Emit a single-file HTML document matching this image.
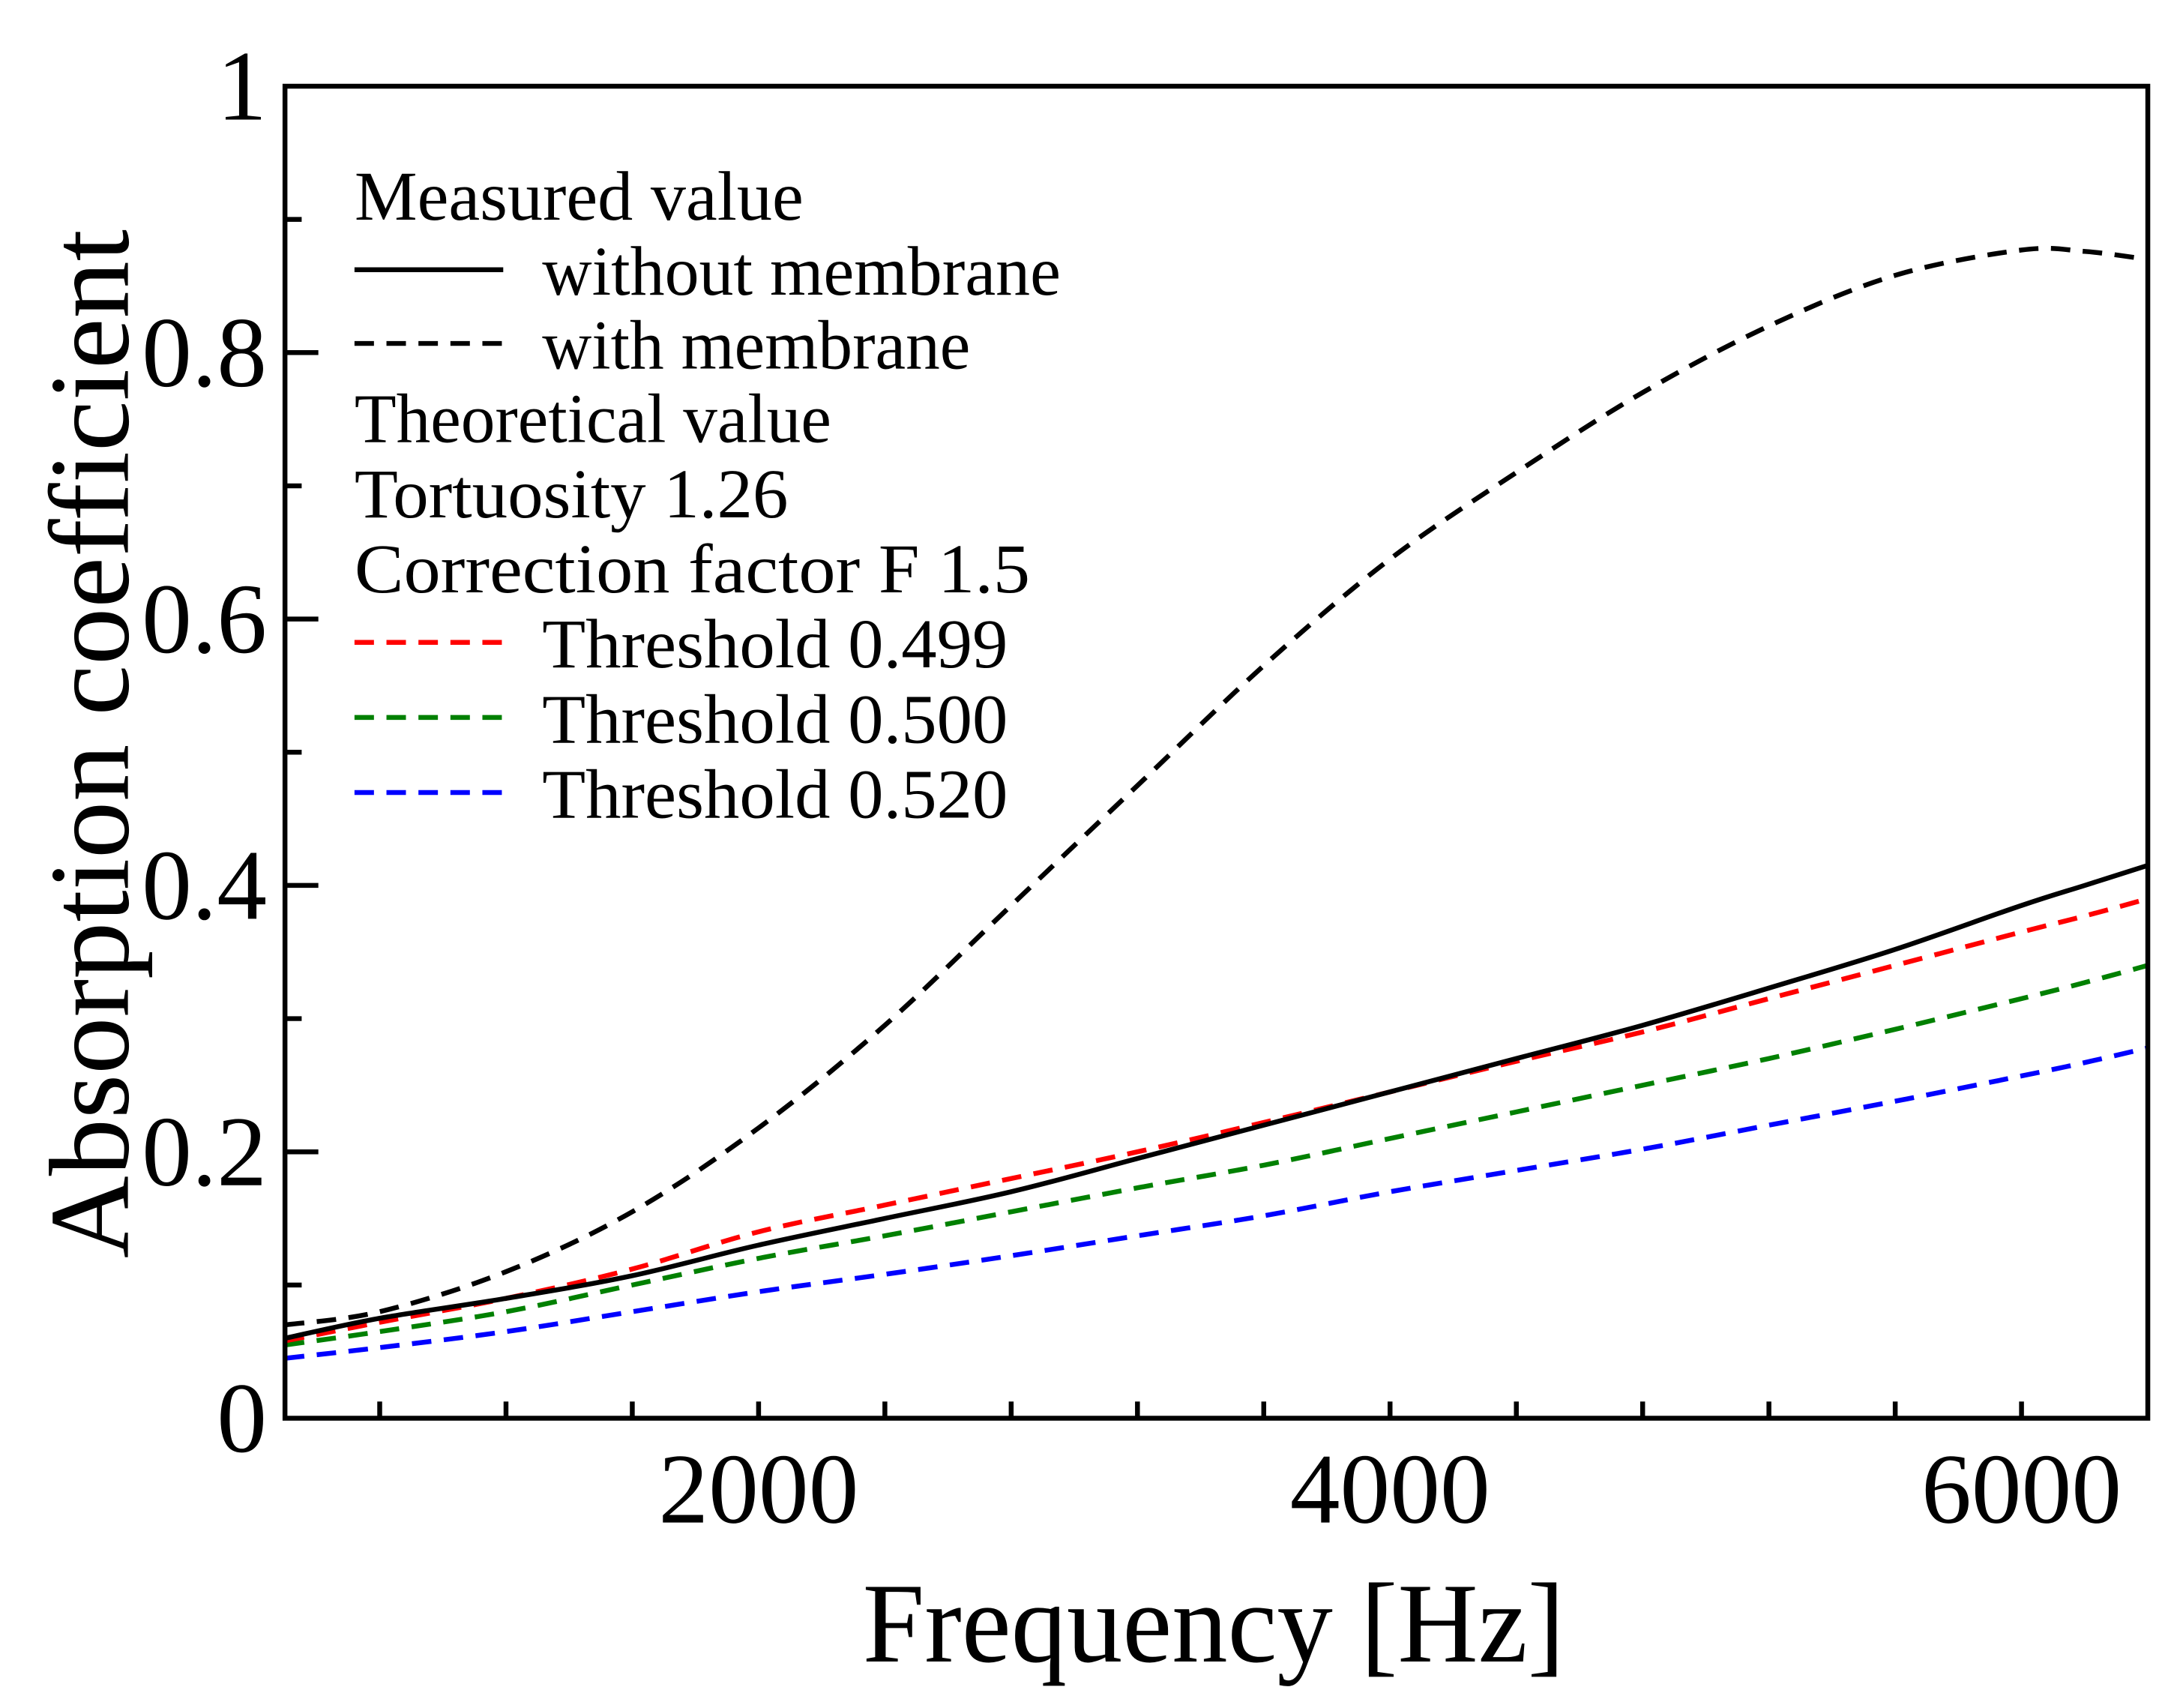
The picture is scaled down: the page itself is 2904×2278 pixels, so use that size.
<!DOCTYPE html>
<html><head><meta charset="utf-8"><style>
html,body{margin:0;padding:0;background:#fff;}
svg{display:block;}
text{font-family:"Liberation Serif",serif;fill:#000;}
</style></head><body>
<svg id="chart" width="2904" height="2278" viewBox="0 0 1566 1228.4" xmlns="http://www.w3.org/2000/svg">
<g id="plot"></g>
</svg>
<script>
const freqs = [500, 800, 1200, 1600, 2000, 2400, 2800, 3200, 3600, 4000, 4400, 4800, 5200, 5600, 6000, 6200, 6400];
const withMembrane = [0.07, 0.08, 0.11, 0.155, 0.218, 0.295, 0.385, 0.475, 0.565, 0.645, 0.71, 0.77, 0.82, 0.858, 0.877, 0.876, 0.87];
const withoutMembrane = [0.06, 0.075, 0.09, 0.107, 0.13, 0.15, 0.17, 0.195, 0.22, 0.245, 0.27, 0.295, 0.323, 0.352, 0.385, 0.40, 0.415];
const thr499 = [0.058, 0.072, 0.09, 0.112, 0.14, 0.16, 0.18, 0.2, 0.222, 0.245, 0.268, 0.29, 0.315, 0.34, 0.365, 0.377, 0.39];
const thr500 = [0.055, 0.065, 0.08, 0.1, 0.12, 0.137, 0.155, 0.173, 0.19, 0.21, 0.23, 0.25, 0.27, 0.292, 0.315, 0.327, 0.34];
const thr520 = [0.045, 0.053, 0.065, 0.08, 0.095, 0.108, 0.122, 0.137, 0.152, 0.17, 0.186, 0.202, 0.22, 0.238, 0.257, 0.267, 0.278];
const xTickLabels = [2000, 4000, 6000];
const yTickLabels = ["0", "0.2", "0.4", "0.6", "0.8", "1"];

const L=205,R=1545,T=62,B=1020,X0=500,X1=6400;
const sx=v=>L+(v-X0)/(X1-X0)*(R-L);
const sy=v=>B-v*(B-T);
const NS="http://www.w3.org/2000/svg";
const g=document.getElementById('plot');
function mk(tag,attrs,parent){const e=document.createElementNS(NS,tag);for(const k in attrs)e.setAttribute(k,attrs[k]);(parent||g).appendChild(e);return e;}
function smoothPath(xs,ys){
  const P=xs.map((f,i)=>[sx(f),sy(ys[i])]);
  let d="M"+P[0][0].toFixed(1)+","+P[0][1].toFixed(1);
  for(let i=0;i<P.length-1;i++){
    const p0=P[Math.max(i-1,0)],p1=P[i],p2=P[i+1],p3=P[Math.min(i+2,P.length-1)];
    const c1=[p1[0]+(p2[0]-p0[0])/6,p1[1]+(p2[1]-p0[1])/6];
    const c2=[p2[0]-(p3[0]-p1[0])/6,p2[1]-(p3[1]-p1[1])/6];
    d+=" C"+c1.map(v=>v.toFixed(1)).join(",")+" "+c2.map(v=>v.toFixed(1)).join(",")+" "+p2.map(v=>v.toFixed(1)).join(",");
  }
  return d;
}
const series=[
 {d:withMembrane,c:"#000",dash:"14 9",n:"with-membrane-line"},
 {d:thr520,c:"#0000ff",dash:"14 9",n:"threshold-0520-line"},
 {d:thr500,c:"#008000",dash:"14 9",n:"threshold-0500-line"},
 {d:thr499,c:"#ff0000",dash:"14 9",n:"threshold-0499-line"},
 {d:withoutMembrane,c:"#000",dash:"none",n:"without-membrane-line"}
];
for(const s of series){
  const p=mk('path',{d:smoothPath(freqs,s.d),fill:"none",stroke:s.c,"stroke-width":3.5,"stroke-dasharray":s.dash,"stroke-linejoin":"round"});
  
  
}
const fr=mk('rect',{x:L,y:T,width:R-L,height:B-T,fill:"none",stroke:"#000","stroke-width":3.5});


for(let f=800;f<6400;f+=400){
  const t=mk('line',{x1:sx(f),x2:sx(f),y1:B,y2:B-12,stroke:"#000","stroke-width":3.5});
  
  
}
for(const f of xTickLabels){
  const t=mk('text',{x:sx(f),y:1095,"font-size":72,"text-anchor":"middle"});
  t.textContent=f;
  
  
}
for(let i=1;i<10;i++){
  const v=i/10;
  const len=(i%2==0)?24:12;
  const t=mk('line',{x1:L,x2:L+len,y1:sy(v),y2:sy(v),stroke:"#000","stroke-width":3.5});
  
  
}
yTickLabels.forEach((lab,i)=>{
  const t=mk('text',{x:192,y:sy(i*0.2)+24,"font-size":72,"text-anchor":"end"});
  t.textContent=lab;
  
  
});
const xt=mk('text',{x:873,y:1195,"font-size":82,"text-anchor":"middle",textLength:505,lengthAdjust:"spacingAndGlyphs"});
xt.textContent="Frequency [Hz]";


const yt=mk('text',{x:0,y:0,"font-size":82,"text-anchor":"middle",textLength:740,lengthAdjust:"spacingAndGlyphs",transform:"translate(92,535) rotate(-90)"});
yt.textContent="Absorption coefficient";


const leg=[
 {t:"Measured value",x:255,y:158,w:323},
 {t:"without membrane",x:390,y:212,w:373,line:"#000",dash:"none"},
 {t:"with membrane",x:390,y:265,w:308,line:"#000",dash:"14 9"},
 {t:"Theoretical value",x:255,y:318,w:343},
 {t:"Tortuosity 1.26",x:255,y:372,w:312},
 {t:"Correction factor  F 1.5",x:255,y:426,w:486},
 {t:"Threshold 0.499",x:390,y:480,w:335,line:"#ff0000",dash:"14 9"},
 {t:"Threshold 0.500",x:390,y:534,w:335,line:"#008000",dash:"14 9"},
 {t:"Threshold 0.520",x:390,y:588,w:335,line:"#0000ff",dash:"14 9"}
];
for(const e of leg){
  const t=mk('text',{x:e.x,y:e.y,"font-size":50,textLength:e.w,lengthAdjust:"spacingAndGlyphs"});
  t.textContent=e.t;
  
  
  if(e.line){
    const l=mk('line',{x1:255,x2:362,y1:e.y-18,y2:e.y-18,stroke:e.line,"stroke-width":3.5,"stroke-dasharray":e.dash});
    
    
  }
}
</script>
</body></html>
